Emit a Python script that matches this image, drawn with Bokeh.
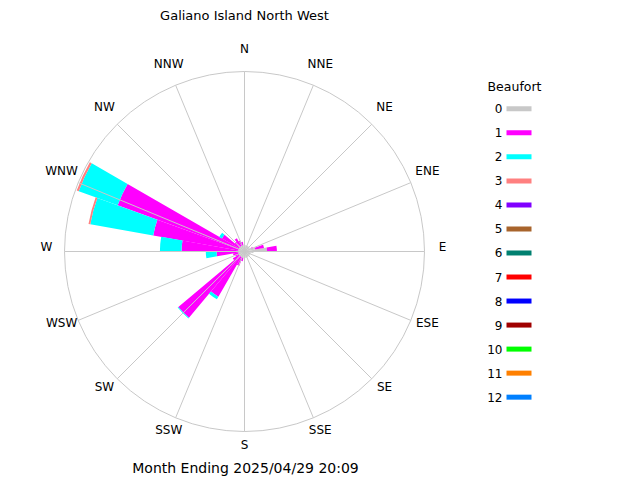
import numpy as np
from bokeh.plotting import figure
from bokeh.models import Range1d
from bokeh.embed import file_html
from bokeh.resources import INLINE
from bokeh.core.properties import value

TITLE = "Galiano Island North West"
FOOTER = "Month Ending 2025/04/29 20:09"
DIR_LABELS = ["N", "NNE", "NE", "ENE", "E", "ESE", "SE", "SSE",
              "S", "SSW", "SW", "WSW", "W", "WNW", "NW", "NNW"]
BIN_START = list(range(0, 360, 10))          # compass degrees, 10-degree bins
BEAUFORT = [str(i) for i in range(13)]
COLORS = ["#c8c8c8", "#ff00ff", "#00ffff", "#ff8080", "#8000ff", "#a8642c",
          "#008070", "#ff0000", "#0000ff", "#a00000", "#00ff00", "#ff8000",
          "#0080ff"]
R_MAX = 10.0   # frequency (%) at the outer ring

# frequency (%) per 10-degree bin (index = bin start / 10), by Beaufort force
F0 = [0.35, 0.35, 0.35, 0.35, 0.35, 0.35, 0.4, 0.6, 1.25, 0.5,
      0.35, 0.35, 0.35, 0.35, 0.35, 0.35, 0.35, 0.35, 0.35, 0.35,
      0.35, 0.35, 0.35, 0.35, 0.35, 0.35, 0.35, 0.35, 0.35, 0.35,
      0.35, 0.35, 0.35, 0.35, 0.35, 0.35]
F1 = [0.0, 0.0, 0.0, 0.0, 0.0, 0.0, 0.1, 0.5, 0.55, 0.0,
      0.0, 0.0, 0.0, 0.0, 0.0, 0.0, 0.0, 0.0, 0.0, 0.2,
      0.5, 2.55, 4.45, 0.4, 0.2, 0.3, 1.2, 3.15, 4.8, 7.15,
      1.1, 0.35, 0.5, 0.3, 0.2, 0.0]
F2 = [0.0] * 21 + [0.17, 0.05, 0.0, 0.0, 0.0, 0.6, 1.2, 3.55, 2.3,
                   0.17, 0.0, 0.0, 0.0, 0.0, 0.0]
F3 = [0.0] * 28 + [0.1, 0.12, 0.0, 0.0, 0.0, 0.0, 0.0, 0.0]
FREQ = [F0, F1, F2, F3] + [[0.0] * 36 for _ in range(9)]

# ---- layout (pixels) ----
W, H = 640, 480
CX, CY, RPX = 244, 251, 180
S = RPX / R_MAX  # px per data unit


def px(x, y):
    return (x - CX) / S, (CY - y) / S


p = figure(width=W, height=H, output_backend="svg", toolbar_location=None,
           x_range=Range1d(-CX / S, (W - CX) / S),
           y_range=Range1d(-(H - CY) / S, CY / S),
           x_axis_location=None, y_axis_location=None, min_border=0)
p.xgrid.grid_line_color = None
p.ygrid.grid_line_color = None
p.outline_line_color = None
p.background_fill_color = "white"

FONT = value("DejaVu Sans")

# stacked wedges
cum = np.zeros(36)
starts = np.radians(90 - (np.array(BIN_START) + 10))
ends = np.radians(90 - np.array(BIN_START))
for lvl, vals in enumerate(FREQ):
    v = np.array(vals)
    m = v > 0
    if m.any():
        p.annular_wedge(x=0, y=0, inner_radius=cum[m], outer_radius=(cum + v)[m],
                        start_angle=starts[m], end_angle=ends[m],
                        fill_color=COLORS[lvl], line_color=None)
    cum = cum + v

# spokes and ring
ang = np.radians(90 - np.arange(16) * 22.5)
p.segment(x0=0, y0=0, x1=R_MAX * np.cos(ang), y1=R_MAX * np.sin(ang),
          line_color="#c8c8c8", line_width=1)
p.circle(x=[0], y=[0], radius=R_MAX, fill_color=None, line_color="#c8c8c8",
         line_width=1)

# direction labels
LR = 198 / S
p.text(x=LR * np.cos(ang), y=LR * np.sin(ang) + 4.5 / S, text=DIR_LABELS,
       text_align="center", text_baseline="middle", text_font=FONT,
       text_font_size="12px", text_color="black")

# title / footer
tx, ty = px(244, 15)
p.text(x=[tx], y=[ty], text=[TITLE], text_align="center", text_baseline="middle",
       text_font=FONT, text_font_size="13px", text_color="black")
fx, fy = px(245, 467)
p.text(x=[fx], y=[fy], text=[FOOTER], text_align="center", text_baseline="middle",
       text_font=FONT, text_font_size="14px", text_color="black")

# legend
lx, ly = px(514, 86)
p.text(x=[lx], y=[ly], text=["Beaufort"], text_align="center", text_baseline="middle",
       text_font=FONT, text_font_size="12.5px", text_color="black")
rows_y = [108.3 + 24.03 * i for i in range(13)]
nx = [px(502, y)[0] for y in rows_y]
ny = [px(502, y)[1] for y in rows_y]
p.text(x=nx, y=ny, text=BEAUFORT, text_align="right", text_baseline="middle",
       text_font=FONT, text_font_size="12px", text_color="black")
sx0 = [px(506, y)[0] for y in rows_y]
sx1 = [px(531, y)[0] for y in rows_y]
p.segment(x0=sx0, y0=ny, x1=sx1, y1=ny, line_color=COLORS, line_width=5)

open("out.html", "w").write(file_html(p, INLINE))
